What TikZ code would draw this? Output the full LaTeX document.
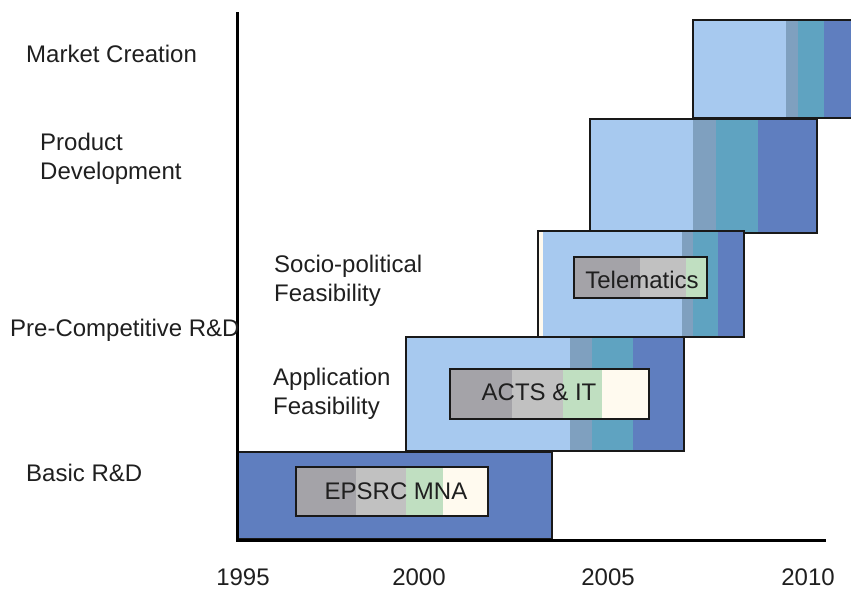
\documentclass[tikz,border=0pt]{standalone}
\usepackage{fontspec}
\setmainfont{Liberation Sans}
\definecolor{lb}{HTML}{A7C9EF}
\definecolor{gb}{HTML}{7FA0BF}
\definecolor{tl}{HTML}{5FA3C1}
\definecolor{db}{HTML}{5F7EBF}
\definecolor{dg}{HTML}{A4A3A8}
\definecolor{lg}{HTML}{C1C1C1}
\definecolor{gr}{HTML}{C0DFC1}
\definecolor{cr}{HTML}{FFFAEF}
\begin{document}
\begin{tikzpicture}[x=1pt,y=-1pt,
  lab/.style={anchor=base west,inner sep=0pt,font=\fontsize{24}{28}\selectfont,text=black!88},
  inlab/.style={anchor=base,inner sep=0pt,font=\fontsize{24}{28}\selectfont,text=black!88},
  yr/.style={anchor=base,inner sep=0pt,font=\fontsize{24}{28}\selectfont,text=black!88},
  boxline/.style={draw=black!90,line width=2pt},
  axisline/.style={draw=black,line width=3pt}]
\useasboundingbox (0,0) rectangle (851,589);
\clip (0,0) rectangle (851,589);
% Market Creation box
\fill[lb] (693,20) rectangle (786,118);
\fill[gb] (786,20) rectangle (798,118);
\fill[tl] (798,20) rectangle (824,118);
\fill[db] (824,20) rectangle (856,118);
\draw[boxline] (856,20) -- (693,20) -- (693,118) -- (856,118);
% Product Development box
\fill[lb] (590,119) rectangle (693,233);
\fill[gb] (693,119) rectangle (716,233);
\fill[tl] (716,119) rectangle (758,233);
\fill[db] (758,119) rectangle (817,233);
\draw[boxline] (590,119) rectangle (817,233);
% Socio-political box
\fill[cr] (538,231) rectangle (543,337);
\fill[lb] (543,231) rectangle (682,337);
\fill[gb] (682,231) rectangle (693,337);
\fill[tl] (693,231) rectangle (718,337);
\fill[db] (718,231) rectangle (744,337);
\draw[boxline] (538,231) rectangle (744,337);
\fill[dg] (574,257) rectangle (640,298);
\fill[lg] (640,257) rectangle (686,298);
\fill[gr] (686,257) rectangle (707,298);
\draw[boxline] (574,257) rectangle (707,298);
\node[inlab] (tele) at (642,288) {Telematics};
% Application box
\fill[lb] (406,337) rectangle (570,451);
\fill[gb] (570,337) rectangle (592,451);
\fill[tl] (592,337) rectangle (633,451);
\fill[db] (633,337) rectangle (684,451);
\draw[boxline] (406,337) rectangle (684,451);
\fill[dg] (450,369) rectangle (512,419);
\fill[lg] (512,369) rectangle (563,419);
\fill[gr] (563,369) rectangle (602,419);
\fill[cr] (602,369) rectangle (649,419);
\draw[boxline] (450,369) rectangle (649,419);
\node[inlab] (acts) at (539,400) {ACTS \& IT};
% Basic R&D box
\fill[db] (237,452) rectangle (552,539);
\draw[boxline] (237,452) rectangle (552,539);
\fill[dg] (296,467) rectangle (356,516);
\fill[lg] (356,467) rectangle (406,516);
\fill[gr] (406,467) rectangle (443,516);
\fill[cr] (443,467) rectangle (488,516);
\draw[boxline] (296,467) rectangle (488,516);
\node[inlab] (epsrc) at (396,499) {EPSRC MNA};
% axes
\coordinate (top) at (237,12);
\coordinate (orig) at (237,540);
\coordinate (xend) at (826,540);
\draw[axisline] (top) -- (orig) -- (xend);
% labels
\node[lab] (mc) at (26,62) {Market Creation};
\node[lab] (pd1) at (40,150) {Product};
\node[lab] (pd2) at (40,179) {Development};
\node[lab] (sp1) at (274,272) {Socio-political};
\node[lab] (sp2) at (274,301) {Feasibility};
\node[lab] (pc) at (10,336) {Pre-Competitive R\&D};
\node[lab] (af1) at (273,385) {Application};
\node[lab] (af2) at (273,414) {Feasibility};
\node[lab] (br) at (26,481) {Basic R\&D};
% years
\node[yr] (y1995) at (243,585) {1995};
\node[yr] (y2000) at (419,585) {2000};
\node[yr] (y2005) at (608,585) {2005};
\node[yr] (y2010) at (808,585) {2010};
\end{tikzpicture}
\end{document}
